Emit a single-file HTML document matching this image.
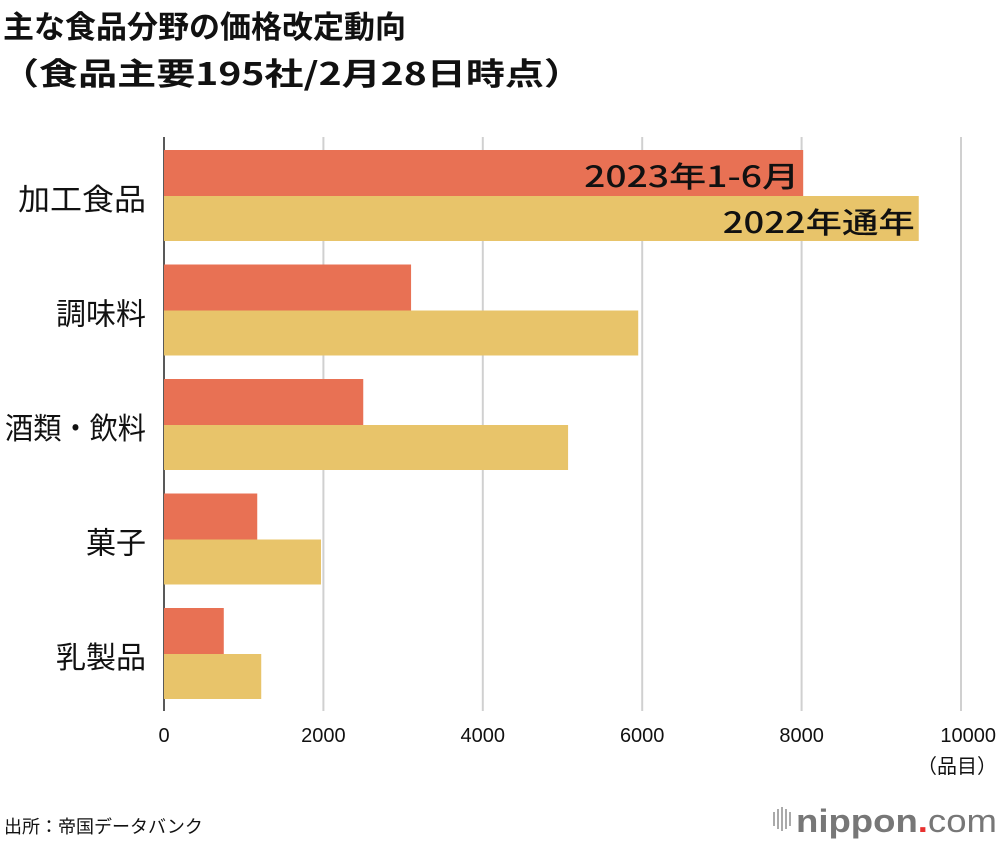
<!DOCTYPE html>
<html><head><meta charset="utf-8"><style>
body{margin:0;background:#fff;}
svg{display:block;font-family:"Liberation Sans","Noto Sans CJK JP",sans-serif;}
.jp{font-family:"Noto Sans CJK JP",sans-serif;}
</style></head><body>
<svg id="c" width="1000" height="842" viewBox="0 0 1000 842">
<text class="jp" x="3" y="38" font-size="31" font-weight="bold" fill="#111">主な食品分野の価格改定動向</text>
<text class="jp" x="0" y="85" font-size="31" font-weight="bold" fill="#111" textLength="583" lengthAdjust="spacingAndGlyphs">（食品主要195社/2月28日時点）</text>
<g id="grid"></g><g id="bars"></g><g id="labels"></g>
<text class="jp" x="997" y="773" font-size="20" text-anchor="end" fill="#111">（品目）</text>
<text class="jp" x="4" y="833" font-size="18" fill="#111">出所：帝国データバンク</text>
<g>
<g fill="#aaa"><rect x="773" y="812" width="2" height="14"/><rect x="777" y="809" width="2" height="20"/><rect x="781" y="807" width="2" height="24"/><rect x="785" y="809" width="2" height="20"/><rect x="789" y="812" width="2" height="14"/></g>
<text x="796" y="832" font-size="32" fill="#777" font-weight="bold" textLength="201" lengthAdjust="spacingAndGlyphs">nippon<tspan fill="#e8312f">.</tspan><tspan font-weight="normal">com</tspan></text>
</g>
</svg>
<script>
const categories=["加工食品","調味料","酒類・飲料","菓子","乳製品"];
const values2023=[8020,3100,2500,1170,750];
const values2022=[9470,5950,5070,1970,1220];
const ticks=[0,2000,4000,6000,8000,10000];
const NS="http://www.w3.org/2000/svg";
const x0=164,x1=961,maxV=10000;
const xs=v=>x0+(x1-x0)*v/maxV;
const groupTop=i=>150+i*114.5;
function mk(tag,attrs,parent){const e=document.createElementNS(NS,tag);for(const k in attrs)e.setAttribute(k,attrs[k]);parent.appendChild(e);return e;}
const grid=document.getElementById('grid'),bars=document.getElementById('bars'),labels=document.getElementById('labels');
ticks.forEach((t,i)=>{
  const l=mk('line',{x1:xs(t),x2:xs(t),y1:137,y2:711,stroke:i===0?'#222':'#d0d0d0','stroke-width':i===0?1.5:2},grid);
  
  
  const tx=mk('text',{x:xs(t),y:742,'font-size':20,'text-anchor':i===ticks.length-1?'end':'middle',fill:'#111'},labels);
  if(i===ticks.length-1)tx.setAttribute('x',996);
  tx.textContent=t;
  
  
});
categories.forEach((c,i)=>{
  const y=groupTop(i);
  const r=mk('rect',{x:x0,y:y,width:xs(values2023[i])-x0,height:46,fill:'#e87154'},bars);
  
  
  const yb=mk('rect',{x:x0,y:y+46,width:xs(values2022[i])-x0,height:45,fill:'#e8c46a'},bars);
  
  
  const t=mk('text',{x:146,y:y+60,'font-size':30,'text-anchor':'end',fill:'#111','class':'jp'},labels);
  t.textContent=c;
  if(i===2){t.setAttribute('textLength',141);t.setAttribute('lengthAdjust','spacingAndGlyphs');}
  if(i===0){t.setAttribute('textLength',128);t.setAttribute('lengthAdjust','spacingAndGlyphs');}
  
  
  if(i===0){
    const a=mk('text',{x:xs(values2023[0])-4,y:y+37,'font-size':29,'font-weight':500,'text-anchor':'end',fill:'#111','class':'jp',textLength:215,lengthAdjust:'spacingAndGlyphs'},labels);
    a.textContent='2023年1-6月';
    
    
    const b=mk('text',{x:xs(values2022[0])-4,y:y+83,'font-size':29,'font-weight':500,'text-anchor':'end',fill:'#111','class':'jp',textLength:192,lengthAdjust:'spacingAndGlyphs'},labels);
    b.textContent='2022年通年';
    
    
  }
});
</script>
</body></html>
